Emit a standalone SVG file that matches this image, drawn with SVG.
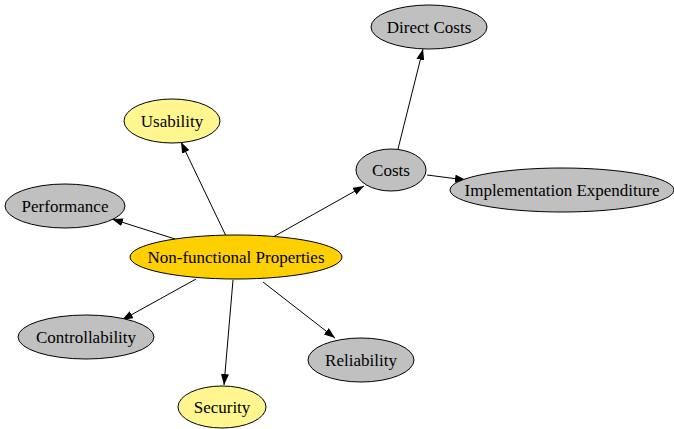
<svg xmlns="http://www.w3.org/2000/svg" width="674" height="429" viewBox="0 0 674 429">
<style>
.n ellipse{stroke:#000;stroke-width:1}
.g{fill:#c0c0c0}
.y{fill:#fff68f}
.o{fill:#ffd000}
text{font-family:"Liberation Serif","Times New Roman",serif;font-size:17px;text-anchor:middle;fill:#000}
.e{stroke:#000;stroke-width:1;fill:none;marker-end:url(#a)}
</style>
<defs>
<marker id="a" viewBox="0 0 11 8" refX="11" refY="4" markerWidth="11" markerHeight="8" markerUnits="userSpaceOnUse" orient="auto">
<path d="M0,0L11,4L0,8z" fill="#000"/>
</marker>
</defs>
<rect width="674" height="429" fill="#fff"/>
<g id="edges">
<line class="e" x1="226" y1="236" x2="181" y2="142"/>
<line class="e" x1="175" y1="239" x2="112" y2="219"/>
<line class="e" x1="273" y1="237" x2="364" y2="186"/>
<line class="e" x1="196" y1="279" x2="122" y2="320"/>
<line class="e" x1="233" y1="280" x2="224" y2="385"/>
<line class="e" x1="263" y1="282" x2="335" y2="338"/>
<line class="e" x1="398" y1="149" x2="423" y2="49"/>
<line class="e" x1="427" y1="175" x2="466" y2="180"/>
</g>
<g id="nfp" class="n"><ellipse class="o" cx="236" cy="257" rx="106" ry="22"/><text x="236" y="263">Non-functional Properties</text></g>
<g id="usability" class="n"><ellipse class="y" cx="172" cy="121" rx="48" ry="22"/><text x="172" y="127">Usability</text></g>
<g id="performance" class="n"><ellipse class="g" cx="65" cy="206" rx="60" ry="22"/><text x="65" y="212">Performance</text></g>
<g id="controllability" class="n"><ellipse class="g" cx="86" cy="337" rx="68" ry="22"/><text x="86" y="343">Controllability</text></g>
<g id="security" class="n"><ellipse class="y" cx="222" cy="407" rx="44" ry="21"/><text x="222" y="413">Security</text></g>
<g id="reliability" class="n"><ellipse class="g" cx="361" cy="360" rx="53" ry="22"/><text x="361" y="366">Reliability</text></g>
<g id="costs" class="n"><ellipse class="g" cx="391" cy="170" rx="35" ry="21"/><text x="391" y="176">Costs</text></g>
<g id="directcosts" class="n"><ellipse class="g" cx="429" cy="27" rx="58" ry="22"/><text x="429" y="33">Direct Costs</text></g>
<g id="implexp" class="n"><ellipse class="g" cx="562" cy="190" rx="112" ry="22"/><text x="562" y="196">Implementation Expenditure</text></g>
</svg>
